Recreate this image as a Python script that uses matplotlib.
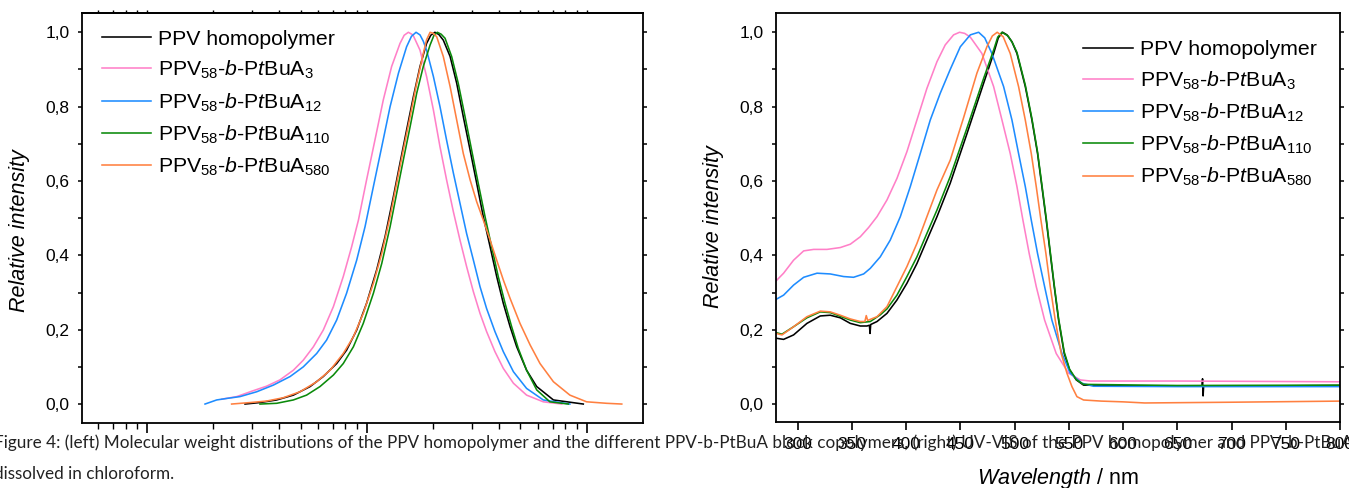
import numpy as np
import matplotlib
matplotlib.use("Agg")
import matplotlib.pyplot as plt
from matplotlib.ticker import LogLocator, MultipleLocator, NullFormatter, FuncFormatter

# ---------------- data: left panel (molecular weight distributions) ----------------
series_labels = ["PPV homopolymer",
                 r"PPV$_{58}$-$b$-P$t$BuA$_{3}$",
                 r"PPV$_{58}$-$b$-P$t$BuA$_{12}$",
                 r"PPV$_{58}$-$b$-P$t$BuA$_{110}$",
                 r"PPV$_{58}$-$b$-P$t$BuA$_{580}$"]
series_colors = ["#000000", "#FF80C8", "#1E8CFF", "#0A8A0A", "#FF8040"]

gpc_logM_homo = [3.446, 3.514, 3.590, 3.666, 3.742, 3.802, 3.863, 3.908, 3.954, 3.999, 4.045, 4.083,
                 4.121, 4.151, 4.181, 4.212, 4.242, 4.272, 4.291, 4.310, 4.328, 4.348, 4.379, 4.409,
                 4.439, 4.470, 4.500, 4.530, 4.561, 4.591, 4.621, 4.652, 4.682, 4.727, 4.773, 4.849,
                 4.985]
gpc_int_homo = [0.0, 0.004, 0.011, 0.024, 0.047, 0.074, 0.109, 0.145, 0.199, 0.271, 0.361, 0.450,
                0.558, 0.648, 0.737, 0.827, 0.908, 0.970, 0.992, 1.0, 0.994, 0.979, 0.935, 0.863,
                0.773, 0.683, 0.594, 0.504, 0.423, 0.343, 0.271, 0.208, 0.154, 0.091, 0.047, 0.011,
                0.0]

gpc_logM_a3 = [3.340, 3.408, 3.484, 3.544, 3.605, 3.666, 3.711, 3.757, 3.802, 3.848, 3.893, 3.931,
               3.962, 3.999, 4.037, 4.075, 4.113, 4.151, 4.170, 4.189, 4.210, 4.242, 4.272, 4.303,
               4.333, 4.363, 4.394, 4.424, 4.454, 4.485, 4.515, 4.545, 4.583, 4.621, 4.667, 4.727,
               4.803, 4.887]
gpc_int_a3 = [0.013, 0.020, 0.036, 0.048, 0.065, 0.091, 0.118, 0.154, 0.199, 0.262, 0.343, 0.423,
              0.495, 0.603, 0.710, 0.818, 0.908, 0.970, 0.992, 1.0, 0.993, 0.952, 0.881, 0.791,
              0.692, 0.603, 0.517, 0.441, 0.370, 0.302, 0.244, 0.195, 0.141, 0.096, 0.056, 0.024,
              0.006, 0.0]

gpc_logM_a12 = [3.264, 3.317, 3.362, 3.423, 3.499, 3.575, 3.651, 3.711, 3.772, 3.817, 3.863, 3.908,
                3.954, 3.992, 4.030, 4.068, 4.106, 4.144, 4.181, 4.203, 4.224, 4.242, 4.257, 4.272,
                4.303, 4.333, 4.363, 4.394, 4.424, 4.454, 4.485, 4.515, 4.545, 4.583, 4.621, 4.667,
                4.727, 4.803, 4.924]
gpc_int_a12 = [0.0, 0.011, 0.015, 0.020, 0.033, 0.051, 0.074, 0.100, 0.136, 0.172, 0.226, 0.298,
               0.387, 0.477, 0.585, 0.692, 0.800, 0.890, 0.961, 0.989, 1.0, 0.993, 0.976, 0.952,
               0.881, 0.800, 0.710, 0.621, 0.540, 0.459, 0.387, 0.316, 0.257, 0.195, 0.141, 0.087,
               0.042, 0.011, 0.0]

gpc_logM_a110 = [3.514, 3.590, 3.666, 3.726, 3.787, 3.848, 3.893, 3.939, 3.984, 4.030, 4.068, 4.106,
                 4.136, 4.166, 4.197, 4.227, 4.257, 4.288, 4.305, 4.321, 4.338, 4.356, 4.386, 4.416,
                 4.447, 4.477, 4.507, 4.538, 4.568, 4.598, 4.629, 4.659, 4.689, 4.727, 4.773, 4.833,
                 4.917]
gpc_int_a110 = [0.0, 0.002, 0.011, 0.024, 0.047, 0.078, 0.109, 0.154, 0.217, 0.298, 0.378, 0.477,
                0.567, 0.656, 0.746, 0.836, 0.908, 0.966, 0.991, 1.0, 0.995, 0.984, 0.935, 0.863,
                0.773, 0.683, 0.594, 0.504, 0.423, 0.343, 0.271, 0.208, 0.150, 0.091, 0.038, 0.006,
                0.0]

gpc_logM_a580 = [3.385, 3.469, 3.544, 3.620, 3.696, 3.772, 3.833, 3.893, 3.939, 3.984, 4.030, 4.068,
                 4.106, 4.136, 4.166, 4.197, 4.227, 4.257, 4.272, 4.288, 4.303, 4.318, 4.348, 4.379,
                 4.409, 4.439, 4.470, 4.500, 4.530, 4.561, 4.591, 4.621, 4.652, 4.697, 4.743, 4.788,
                 4.849, 4.924, 5.000, 5.091, 5.160]
gpc_int_a580 = [0.0, 0.004, 0.008, 0.017, 0.033, 0.060, 0.091, 0.136, 0.181, 0.244, 0.325, 0.405,
                0.504, 0.594, 0.683, 0.773, 0.863, 0.943, 0.980, 1.0, 0.997, 0.988, 0.935, 0.854,
                0.764, 0.674, 0.603, 0.544, 0.495, 0.441, 0.387, 0.334, 0.284, 0.217, 0.159, 0.109,
                0.060, 0.024, 0.006, 0.002, 0.0]

# ---------------- data: right panel (UV-VIS) ----------------
uv_wl_homo = [280.4, 287.1, 296.3, 308.6, 320.9, 330.1, 339.4, 348.6, 357.8, 363.9, 366.2, 366.8,
              367.4, 373.2, 382.4, 391.6, 400.8, 410.0, 419.2, 428.5, 440.7, 456.1, 471.5, 480.7,
              485.0, 489.0, 493.0, 497.5, 502.2, 509.9, 516.0, 521.2, 525.2, 529.2, 532.9, 536.6,
              540.6, 545.8, 550.7, 556.9, 563.6, 600.0, 672.8, 673.3, 673.8, 674.3, 740.0, 800.0]
uv_int_homo = [0.177, 0.174, 0.186, 0.217, 0.237, 0.239, 0.232, 0.217, 0.210, 0.210, 0.212, 0.190,
               0.214, 0.222, 0.244, 0.280, 0.325, 0.378, 0.441, 0.504, 0.594, 0.727, 0.863, 0.943,
               0.985, 1.000, 0.993, 0.975, 0.943, 0.854, 0.764, 0.674, 0.585, 0.495, 0.405, 0.316,
               0.226, 0.136, 0.092, 0.065, 0.051, 0.049, 0.049, 0.068, 0.022, 0.049, 0.049, 0.050]

uv_wl_a3 = [280.4, 287.1, 296.3, 305.6, 314.8, 327.1, 339.4, 348.6, 357.8, 365.5, 373.2, 382.4,
            391.6, 400.8, 410.0, 419.2, 428.5, 436.1, 443.8, 449.3, 454.0, 459.2, 469.9, 480.7,
            488.4, 496.0, 502.2, 507.7, 513.5, 520.0, 527.7, 538.4, 549.8, 560.6, 569.8, 650.0,
            725.0, 800.0]
uv_int_a3 = [0.332, 0.352, 0.387, 0.412, 0.416, 0.416, 0.421, 0.430, 0.450, 0.475, 0.504, 0.549,
             0.607, 0.679, 0.764, 0.849, 0.921, 0.966, 0.993, 1.000, 0.997, 0.987, 0.943, 0.854,
             0.764, 0.674, 0.585, 0.495, 0.405, 0.316, 0.226, 0.136, 0.083, 0.065, 0.062, 0.062,
             0.061, 0.060]

uv_wl_a12 = [280.4, 287.1, 296.3, 305.6, 317.9, 330.1, 342.4, 351.6, 360.9, 367.0, 376.2, 385.4,
             394.7, 403.9, 413.1, 422.3, 431.5, 440.7, 450.0, 459.2, 466.9, 472.5, 479.1, 489.9,
             497.6, 503.7, 509.9, 515.4, 521.2, 527.7, 534.4, 543.7, 551.3, 562.1, 572.8, 650.0,
             800.0]
uv_int_a12 = [0.282, 0.293, 0.320, 0.341, 0.352, 0.350, 0.343, 0.341, 0.350, 0.365, 0.396, 0.441,
              0.504, 0.585, 0.674, 0.764, 0.836, 0.900, 0.961, 0.993, 1.000, 0.985, 0.943, 0.854,
              0.764, 0.674, 0.585, 0.495, 0.405, 0.316, 0.226, 0.136, 0.083, 0.056, 0.048, 0.047,
              0.047]

uv_wl_a110 = [280.4, 285.6, 296.3, 308.6, 320.9, 330.1, 339.4, 348.6, 357.8, 367.0, 376.2, 382.4,
              391.6, 400.8, 410.0, 419.2, 428.5, 440.7, 456.1, 471.5, 480.7, 484.5, 488.4, 494.0,
              498.0, 502.2, 509.9, 516.0, 521.2, 525.2, 529.2, 532.9, 536.6, 540.6, 545.8, 550.7,
              556.9, 563.6, 650.0, 800.0]
uv_int_a110 = [0.192, 0.188, 0.208, 0.232, 0.248, 0.246, 0.236, 0.226, 0.219, 0.222, 0.240, 0.256,
               0.293, 0.343, 0.396, 0.459, 0.522, 0.612, 0.742, 0.876, 0.952, 0.987, 1.000, 0.990,
               0.972, 0.946, 0.858, 0.768, 0.678, 0.590, 0.500, 0.410, 0.320, 0.230, 0.140, 0.094,
               0.066, 0.053, 0.050, 0.051]

uv_wl_a580 = [280.4, 285.6, 296.3, 308.6, 320.9, 330.1, 339.4, 348.6, 357.8, 362.0, 363.3, 364.6,
              373.2, 382.4, 391.6, 400.8, 410.0, 419.2, 428.5, 440.7, 453.0, 465.3, 474.5, 479.5,
              484.0, 489.5, 496.0, 503.7, 509.9, 515.4, 520.0, 524.3, 528.9, 532.9, 537.5, 543.0,
              548.3, 552.9, 557.5, 563.6, 580.0, 600.0, 620.0, 700.0, 800.0]
uv_int_a580 = [0.190, 0.186, 0.208, 0.235, 0.250, 0.248, 0.239, 0.229, 0.222, 0.222, 0.238, 0.225,
               0.235, 0.262, 0.316, 0.370, 0.432, 0.504, 0.576, 0.656, 0.770, 0.890, 0.961, 0.990,
               1.000, 0.988, 0.943, 0.854, 0.764, 0.674, 0.585, 0.495, 0.405, 0.316, 0.226, 0.136,
               0.083, 0.047, 0.020, 0.011, 0.008, 0.006, 0.003, 0.005, 0.008]

caption_line1 = ("Figure 4: (left) Molecular weight distributions of the PPV homopolymer and the different "
                 "PPV-b-PtBuA block copolymers, (right) UV-VIS of the PPV homopolymer and PPV-b-PtBuA")
caption_line2 = "dissolved in chloroform."

# ---------------- style ----------------
plt.rcParams['font.family'] = ['Liberation Sans', 'DejaVu Sans']
plt.rcParams['mathtext.fontset'] = 'custom'
plt.rcParams['mathtext.rm'] = 'Liberation Sans'
plt.rcParams['mathtext.it'] = 'Liberation Sans:italic'
plt.rcParams['mathtext.bf'] = 'Liberation Sans:bold'
plt.rcParams['axes.linewidth'] = 1.3

W, H = 1349, 488
fig = plt.figure(figsize=(W / 100, H / 100), dpi=100)


def rect(x0, y0, x1, y1):
    return [x0 / W, 1 - y1 / H, (x1 - x0) / W, (y1 - y0) / H]


comma = FuncFormatter(lambda v, p: f"{v:.1f}".replace(".", ","))
LW = 1.15
LEG = dict(loc='upper left', frameon=False, fontsize=15.3, handlelength=2.35, handletextpad=0.33,
           labelspacing=0.47, borderpad=0, borderaxespad=0)

# ---------------- left panel ----------------
axL = fig.add_axes(rect(82, 12.7, 643, 423))
gpc = [(gpc_logM_homo, gpc_int_homo), (gpc_logM_a3, gpc_int_a3), (gpc_logM_a12, gpc_int_a12),
       (gpc_logM_a110, gpc_int_a110), (gpc_logM_a580, gpc_int_a580)]
handles = []
for (lm, it), c, lab in zip(gpc, series_colors, series_labels):
    h, = axL.plot(10 ** np.asarray(lm), it, color=c, lw=LW, label=lab)
    handles.append(h)
axL.set_xscale('log')
axL.set_xlim(10 ** 2.7043, 10 ** 5.2566)
axL.set_ylim(-0.051, 1.0527)
axL.xaxis.set_major_locator(LogLocator(base=10))
axL.xaxis.set_minor_locator(LogLocator(base=10, subs=np.arange(2, 10)))
axL.xaxis.set_major_formatter(NullFormatter())
axL.xaxis.set_minor_formatter(NullFormatter())
axL.yaxis.set_major_locator(MultipleLocator(0.2))
axL.yaxis.set_minor_locator(MultipleLocator(0.1))
axL.yaxis.set_major_formatter(comma)
axL.tick_params(axis='x', which='major', direction='out', length=7, width=1.2)
axL.tick_params(axis='x', which='minor', direction='out', length=4, width=1.0)
axL.tick_params(axis='y', which='both', direction='out', length=3, width=1.1, right=True,
                labelsize=12.5, pad=6)
secL = axL.secondary_xaxis('top')
secL.xaxis.set_major_locator(LogLocator(base=10))
secL.xaxis.set_minor_locator(LogLocator(base=10, subs=np.arange(2, 10)))
secL.xaxis.set_major_formatter(NullFormatter())
secL.xaxis.set_minor_formatter(NullFormatter())
secL.tick_params(axis='x', which='both', direction='out', length=2, width=1.0)
secL.spines['top'].set_linewidth(1.3)
axL.set_ylabel('Relative intensity', style='italic', fontsize=15.5)
axL.yaxis.set_label_coords(-0.0927, 0.468)
axL.legend(handles=handles, bbox_to_anchor=(0.0348, 0.958), **LEG)

# ---------------- right panel ----------------
axR = fig.add_axes(rect(776, 13.3, 1340, 422.3))
uv = [(uv_wl_homo, uv_int_homo), (uv_wl_a3, uv_int_a3), (uv_wl_a12, uv_int_a12),
      (uv_wl_a110, uv_int_a110), (uv_wl_a580, uv_int_a580)]
handlesR = []
for (wl, it), c, lab in zip(uv, series_colors, series_labels):
    h, = axR.plot(wl, it, color=c, lw=LW, label=lab)
    handlesR.append(h)
axR.set_xlim(280.1, 800)
axR.set_ylim(-0.049, 1.051)
axR.xaxis.set_major_locator(MultipleLocator(50))
axR.yaxis.set_major_locator(MultipleLocator(0.2))
axR.yaxis.set_minor_locator(MultipleLocator(0.1))
axR.yaxis.set_major_formatter(comma)
axR.tick_params(axis='x', which='major', direction='out', length=5.5, width=1.2,
                labelsize=12.5, pad=5)
axR.tick_params(axis='y', which='both', direction='out', length=3, width=1.1, right=True,
                labelsize=12.5, pad=6)
axR.set_ylabel('Relative intensity', style='italic', fontsize=15.5)
axR.yaxis.set_label_coords(-0.0922, 0.4775)
axR.legend(handles=handlesR, bbox_to_anchor=(0.544, 0.934), **LEG)
fig.text(1058 / W, 1 - 484 / H, r'$\mathit{Wavelength}$ / nm', fontsize=15.5,
         ha='center', va='baseline')

# ---------------- caption ----------------
cap_kw = dict(family=['Lato', 'DejaVu Sans'], color='#222222', va='baseline', ha='left')
t1 = fig.text(-6 / W, 1 - 448 / H, caption_line1, fontsize=12, **cap_kw)
t2 = fig.text(-6 / W, 1 - 479 / H, caption_line2, fontsize=12, **cap_kw)
renderer = fig.canvas.get_renderer()
wpx = t1.get_window_extent(renderer).width
fs = 12 * 1352 / wpx
t1.set_fontsize(fs)
t2.set_fontsize(fs)

fig.savefig('out.png', dpi=100)
